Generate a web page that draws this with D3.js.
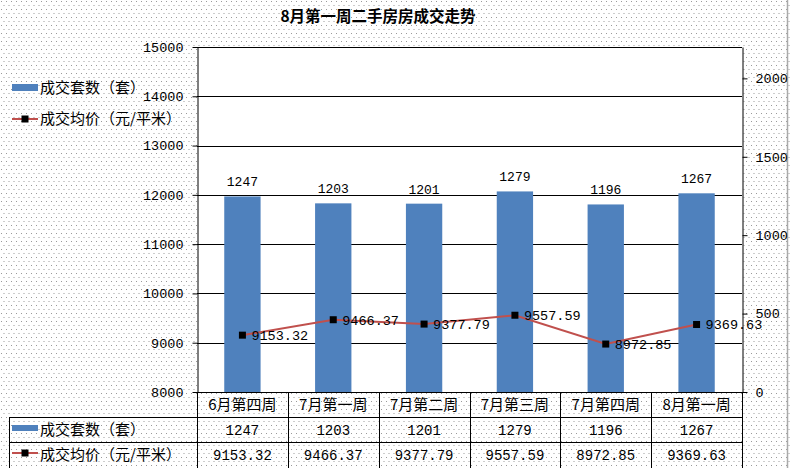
<!DOCTYPE html>
<html><head><meta charset="utf-8">
<script src="https://cdn.jsdelivr.net/npm/d3@7"></script>
<style>html,body{margin:0;padding:0;background:#fff;}svg{display:block;}</style>
</head><body>
<script>
const categories = ["6月第四周","7月第一周","7月第二周","7月第三周","7月第四周","8月第一周"];
const counts = [1247,1203,1201,1279,1196,1267];
const prices = [9153.32,9466.37,9377.79,9557.59,8972.85,9369.63];
const priceLabels = ["9153.32","9466.37","9377.79","9557.59","8972.85","9369.63"];
const leftTicks = [8000,9000,10000,11000,12000,13000,14000,15000];
const rightTicks = [0,500,1000,1500,2000];
const seriesNames = ["成交套数（套）","成交均价（元/平米）"];
const title = "8月第一周二手房房成交走势";

const W=790,H=468;
const L=197,R=742,T=47,B=392;
const cjk = '"Noto Sans CJK SC", sans-serif';
const mono = '"Liberation Mono", "DejaVu Sans Mono", monospace';
const blue = "#4F81BD", red = "#C0504D";

const svg = d3.select("body").append("svg").attr("width",W).attr("height",H);
const defs = svg.append("defs");
const pat = defs.append("pattern").attr("id","dots").attr("width",5).attr("height",8).attr("patternUnits","userSpaceOnUse");
pat.append("rect").attr("x",1).attr("y",1).attr("width",1).attr("height",1).attr("fill","#9a9a9a");
pat.append("rect").attr("x",3.5).attr("y",5).attr("width",1).attr("height",1).attr("fill","#9a9a9a");
svg.append("rect").attr("width",W).attr("height",H).attr("fill","#fff");
svg.append("rect").attr("width",W).attr("height",H).attr("fill","url(#dots)");
svg.append("line").attr("x1",787.5).attr("x2",787.5).attr("y1",0).attr("y2",H).attr("stroke","#aaa").attr("stroke-width",1.5);

// plot area
svg.append("rect").attr("x",L).attr("y",T).attr("width",R-L).attr("height",B-T).attr("fill","#fff");

const yL = d3.scaleLinear().domain([8000,15000]).range([B,T]);
const yR = d3.scaleLinear().domain([0,2200]).range([B,T]);
const xCat = d3.scaleBand().domain(categories).range([L,R]);
const xBar = d3.scaleBand().domain(categories).range([L,R]).paddingInner(0.6).paddingOuter(0.3);
const cx = c => xCat(c)+xCat.bandwidth()/2;

// gridlines
svg.append("g").selectAll("line").data(leftTicks).join("line")
  .attr("x1",L).attr("x2",R).attr("y1",d=>Math.round(yL(d))+0.5).attr("y2",d=>Math.round(yL(d))+0.5)
  .attr("stroke","#000").attr("stroke-width",1);

// bars
svg.append("g").selectAll("rect").data(categories).join("rect")
  .attr("x",c=>xBar(c)).attr("width",xBar.bandwidth())
  .attr("y",(c,i)=>yR(counts[i])).attr("height",(c,i)=>B-yR(counts[i]))
  .attr("fill",blue);
svg.append("g").selectAll("text").data(categories).join("text")
  .attr("x",c=>cx(c)).attr("y",(c,i)=>yR(counts[i])-10)
  .attr("text-anchor","middle").attr("font-family",mono).attr("font-size",13)
  .text((c,i)=>counts[i]);

// line
const line = d3.line().x((d,i)=>cx(categories[i])).y(d=>yL(d));
svg.append("path").datum(prices).attr("d",line).attr("fill","none").attr("stroke",red).attr("stroke-width",2);
svg.append("g").selectAll("rect").data(prices).join("rect")
  .attr("x",(d,i)=>cx(categories[i])-3.5).attr("y",d=>yL(d)-3.5).attr("width",7).attr("height",7).attr("fill","#000");
svg.append("g").selectAll("text").data(prices).join("text")
  .attr("x",(d,i)=>cx(categories[i])+9).attr("y",d=>yL(d)+5)
  .attr("font-family",mono).attr("font-size",13.5)
  .text((d,i)=>priceLabels[i]);

// axes
const axL = svg.append("g").attr("transform",`translate(${L+0.5},0)`)
  .call(d3.axisLeft(yL).tickValues(leftTicks).tickSize(5).tickSizeOuter(0).tickPadding(9).tickFormat(d3.format("d")));
const axR = svg.append("g").attr("transform",`translate(${R+0.5},0)`)
  .call(d3.axisRight(yR).tickValues(rightTicks).tickSize(5).tickSizeOuter(0).tickPadding(8).tickFormat(d3.format("d")));
[axL,axR].forEach(a=>{
  a.selectAll("text").attr("font-family",mono).attr("font-size",13.5).attr("fill","#000");
  a.selectAll("line,path").attr("stroke","#000");
});

// title
svg.append("text").attr("x",378).attr("y",22).attr("text-anchor","middle")
  .attr("font-family",cjk).attr("font-weight","bold").attr("font-size",15.5).text(title);

// top legend
svg.append("rect").attr("x",12).attr("y",84).attr("width",26).attr("height",7).attr("fill",blue);
svg.append("text").attr("x",40).attr("y",93).attr("font-family",cjk).attr("font-size",15).text(seriesNames[0]);
svg.append("line").attr("x1",12).attr("x2",38).attr("y1",119).attr("y2",119).attr("stroke",red).attr("stroke-width",2);
svg.append("rect").attr("x",21.5).attr("y",115.5).attr("width",7).attr("height",7).attr("fill","#000");
svg.append("text").attr("x",40).attr("y",124).attr("font-family",cjk).attr("font-size",15).text(seriesNames[1]);

// data table
const tb = svg.append("g");
const rows = [B,417,442];
tb.append("line").attr("x1",L).attr("x2",R+5).attr("y1",B+0.5).attr("y2",B+0.5).attr("stroke","#000");
[417,442].forEach(y=>tb.append("line").attr("x1",9).attr("x2",R).attr("y1",y+0.5).attr("y2",y+0.5).attr("stroke","#000"));
tb.append("line").attr("x1",9.5).attr("x2",9.5).attr("y1",417).attr("y2",H).attr("stroke","#000");
const bounds = categories.map(c=>xCat(c)).concat([R]);
tb.selectAll("line.v").data(bounds).join("line").attr("class","v")
  .attr("x1",d=>Math.round(d)+0.5).attr("x2",d=>Math.round(d)+0.5).attr("y1",B).attr("y2",H).attr("stroke","#000");
tb.selectAll("text.c").data(categories).join("text").attr("class","c")
  .attr("x",c=>cx(c)).attr("y",410).attr("text-anchor","middle").attr("font-family",cjk).attr("font-size",15).text(c=>c);
tb.selectAll("text.n").data(counts).join("text").attr("class","n")
  .attr("x",(d,i)=>cx(categories[i])).attr("y",435).attr("text-anchor","middle").attr("font-family",mono).attr("font-size",14).text(d=>d);
tb.selectAll("text.p").data(priceLabels).join("text").attr("class","p")
  .attr("x",(d,i)=>cx(categories[i])).attr("y",460).attr("text-anchor","middle").attr("font-family",mono).attr("font-size",14).text(d=>d);
tb.append("rect").attr("x",12).attr("y",425).attr("width",26).attr("height",6).attr("fill",blue);
tb.append("text").attr("x",40).attr("y",435).attr("font-family",cjk).attr("font-size",15).text(seriesNames[0]);
tb.append("line").attr("x1",12).attr("x2",38).attr("y1",453).attr("y2",453).attr("stroke",red).attr("stroke-width",2);
tb.append("rect").attr("x",21.5).attr("y",449.5).attr("width",7).attr("height",7).attr("fill","#000");
tb.append("text").attr("x",40).attr("y",460).attr("font-family",cjk).attr("font-size",15).text(seriesNames[1]);
</script>
</body></html>
